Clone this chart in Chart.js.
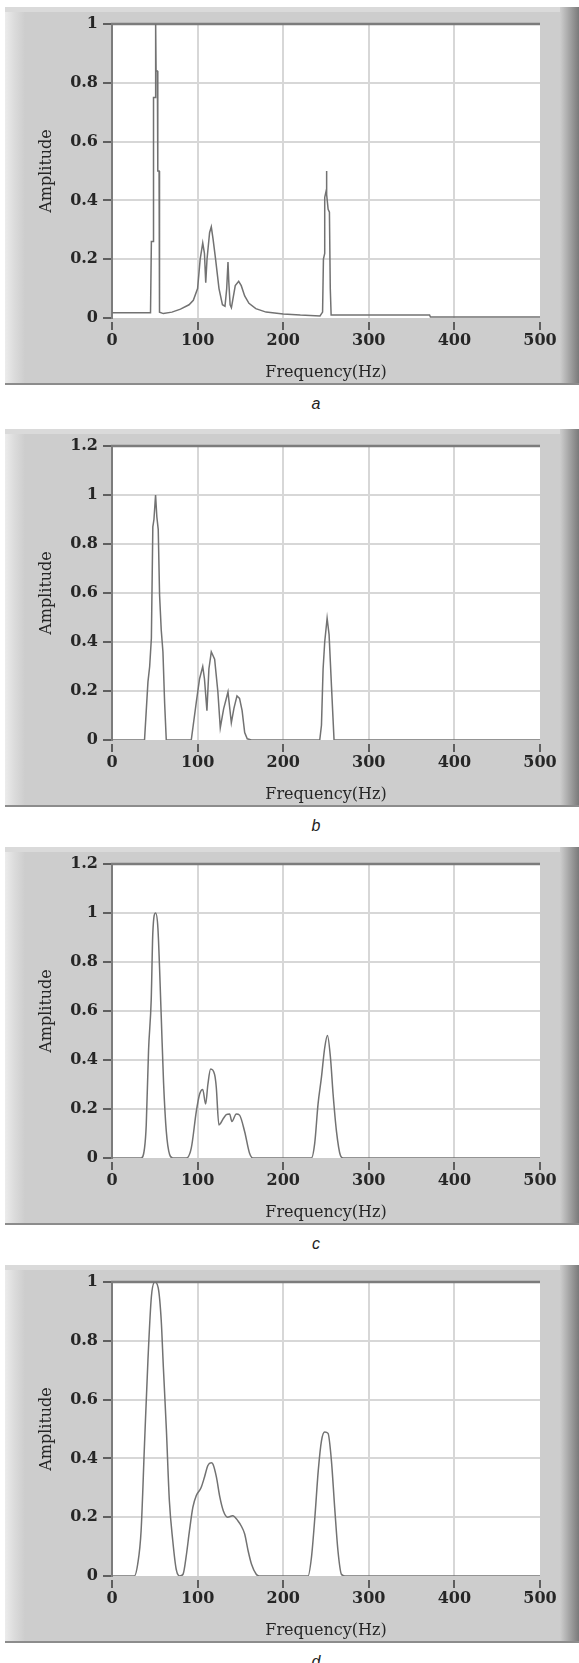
<!DOCTYPE html>
<html>
<head>
<meta charset="utf-8">
<script src="https://cdn.jsdelivr.net/npm/chart.js@4.4.0/dist/chart.umd.min.js"></script>
<style>
  html, body { margin: 0; padding: 0; background: #ffffff; }
  #page { position: relative; width: 579px; height: 1663px; overflow: hidden; background: #ffffff; }
  .frame {
    position: absolute; left: 5px; width: 574px; height: 378px;
    background:
      linear-gradient(to top, #8c8c8c 0, #8c8c8c 2px, rgba(0,0,0,0) 2px),
      linear-gradient(to right, #ececec 0, #dcdcdc 9px, #cdcdcd 20px, #cdcdcd 555px, #bcbcbc 559px, #999999 567px, #7a7a7a 574px);
  }
  .frame .band { position: absolute; left: 0; top: 0; width: 555px; height: 5px; background: #dadada; }
  .frame canvas { position: absolute; left: 0; top: 0; }
  .cap {
    position: absolute; left: 296px; width: 40px; text-align: center;
    font: italic 16px "Liberation Sans", Arial, sans-serif; color: #222; line-height: 20px;
  }
</style>
</head>
<body>
<div id="page"></div>
<script>
// Spectrum a: raw FFT amplitude
const freqA = [0, 45, 46, 48.5, 48.5, 50.5, 51, 51.5, 53, 53.5, 55, 55.5, 60, 70, 80, 90, 95, 100, 103, 106, 108, 109.5, 111, 114, 116, 118, 121, 125, 129, 132, 134, 135.5, 136.5, 138, 139.5, 141, 144, 148, 151, 155, 160, 168, 180, 200, 220, 243, 246, 247, 248.5, 248.5, 250, 250.5, 251, 252.5, 254, 255, 256, 300, 371, 372, 500];
const ampA  = [0.018, 0.018, 0.26, 0.26, 0.75, 0.75, 1.0, 0.84, 0.84, 0.5, 0.5, 0.02, 0.015, 0.02, 0.03, 0.045, 0.06, 0.1, 0.2, 0.255, 0.22, 0.12, 0.2, 0.29, 0.31, 0.27, 0.2, 0.1, 0.045, 0.04, 0.1, 0.19, 0.12, 0.045, 0.035, 0.06, 0.11, 0.125, 0.11, 0.075, 0.05, 0.032, 0.02, 0.014, 0.01, 0.007, 0.02, 0.2, 0.22, 0.41, 0.43, 0.5, 0.42, 0.37, 0.36, 0.1, 0.01, 0.01, 0.01, 0.003, 0.003];

// Spectrum b
const freqB = [0, 38, 42, 44, 46, 47.7, 49, 50.9, 52.4, 54, 55.6, 57.5, 59.5, 61.5, 63.4, 92.6, 98.5, 102.3, 106, 108, 110.9, 113.2, 116, 119.9, 123.7, 126.5, 130.4, 135.5, 139.4, 142.5, 146, 149, 152, 155, 158, 162.8, 242.7, 244.7, 246.6, 248.5, 251.3, 253.6, 256.4, 259.4, 500];
const ampB  = [0, 0, 0.237, 0.3, 0.415, 0.87, 0.9, 1.0, 0.91, 0.86, 0.59, 0.45, 0.36, 0.15, 0, 0, 0.155, 0.25, 0.3, 0.25, 0.12, 0.29, 0.36, 0.33, 0.196, 0.05, 0.127, 0.196, 0.07, 0.13, 0.18, 0.17, 0.12, 0.03, 0.005, 0, 0, 0.06, 0.29, 0.4, 0.497, 0.43, 0.22, 0, 0];

// Spectrum c
const freqC = [0, 34, 38, 40, 42.7, 45.8, 47.7, 50.9, 53.6, 57.5, 60.2, 63.4, 67.3, 71, 87, 92.6, 98.5, 102.3, 106, 109.4, 112, 115.2, 119.9, 121.8, 124.9, 130.4, 133.5, 137.4, 140, 145.2, 149, 155, 160.8, 164.7, 233, 236.8, 240.7, 244.7, 248.5, 251.7, 255.2, 258.3, 262.2, 266.9, 270, 500];
const ampC  = [0, 0, 0.04, 0.135, 0.44, 0.645, 0.92, 1.0, 0.94, 0.58, 0.31, 0.11, 0.014, 0, 0, 0.04, 0.19, 0.26, 0.28, 0.22, 0.3, 0.363, 0.34, 0.29, 0.135, 0.163, 0.177, 0.18, 0.149, 0.18, 0.175, 0.107, 0.018, 0, 0, 0.06, 0.22, 0.33, 0.45, 0.5, 0.41, 0.26, 0.11, 0.01, 0, 0];

// Spectrum d
const freqD = [0, 26, 30, 34, 38, 42, 46, 50, 54, 57.5, 60, 63.5, 67, 71, 75, 79, 83, 87, 90.5, 94.5, 98.5, 104, 108, 112, 116, 118, 122, 126, 130, 135, 141, 147, 151, 155, 159, 163, 168.5, 172, 229, 233, 237, 241, 244.7, 248.5, 252.4, 256.4, 260.2, 264, 268, 272, 500];
const ampD  = [0, 0, 0.04, 0.154, 0.45, 0.735, 0.95, 1.0, 0.98, 0.87, 0.71, 0.5, 0.257, 0.12, 0.023, 0, 0.006, 0.074, 0.154, 0.234, 0.274, 0.3, 0.336, 0.376, 0.385, 0.38, 0.336, 0.268, 0.222, 0.2, 0.205, 0.188, 0.17, 0.143, 0.086, 0.04, 0.006, 0, 0, 0.063, 0.2, 0.36, 0.46, 0.49, 0.485, 0.39, 0.23, 0.085, 0.006, 0, 0];

const yMaxes = [1, 1.2, 1.2, 1];
const captions = ['a', 'b', 'c', 'd'];
const xTitle = 'Frequency(Hz)';
const yTitle = 'Amplitude';

const series = [[freqA, ampA], [freqB, ampB], [freqC, ampC], [freqD, ampD]];
const smooth = [false, false, true, true];

// layout constants (page pixels)
const frameTops = [7, 429, 847, 1265];
const FRAME_W = 574, FRAME_H = 378;
const AREA_LEFT = 107, AREA_RIGHT = 535, AREA_TOP = 17, AREA_BOTTOM = 311;

// white plot background and the dark top edge of the plot
const plotFrame = {
  id: 'plotFrame',
  beforeDraw(chart) {
    const { ctx, chartArea: a } = chart;
    ctx.save();
    ctx.fillStyle = '#ffffff';
    ctx.fillRect(a.left, a.top, a.right - a.left, a.bottom - a.top);
    ctx.restore();
  },
  beforeDatasetsDraw(chart) {
    const { ctx, chartArea: a } = chart;
    ctx.save();
    ctx.strokeStyle = '#7c7c7c';
    ctx.lineWidth = 2.5;
    ctx.beginPath();
    ctx.moveTo(a.left - 1, a.top);
    ctx.lineTo(a.right, a.top);
    ctx.stroke();
    ctx.restore();
  }
};

const tickFont = { family: '"DejaVu Serif", "Liberation Serif", serif', size: 16, weight: 'bold' };
const titleFont = { family: '"DejaVu Serif", "Liberation Serif", serif', size: 16 };
const TEXT = '#262626';
const GRID = '#d7d7d7';

const page = document.getElementById('page');

series.forEach(([freqs, amps], i) => {
  const frame = document.createElement('div');
  frame.className = 'frame';
  frame.style.top = frameTops[i] + 'px';
  const band = document.createElement('div');
  band.className = 'band';
  frame.appendChild(band);
  const canvas = document.createElement('canvas');
  canvas.width = FRAME_W;
  canvas.height = FRAME_H;
  canvas.style.width = FRAME_W + 'px';
  canvas.style.height = FRAME_H + 'px';
  frame.appendChild(canvas);
  page.appendChild(frame);

  const cap = document.createElement('div');
  cap.className = 'cap';
  cap.style.top = (frameTops[i] + 387) + 'px';
  cap.textContent = captions[i];
  page.appendChild(cap);

  const yMax = yMaxes[i];
  const points = freqs.map((f, k) => ({ x: f, y: amps[k] }));

  new Chart(canvas, {
    type: 'line',
    data: {
      datasets: [{
        data: points,
        borderColor: '#727272',
        borderWidth: 1.5,
        pointRadius: 0,
        tension: 0,
        cubicInterpolationMode: smooth[i] ? 'monotone' : 'default',
        fill: false
      }]
    },
    options: {
      responsive: false,
      animation: false,
      devicePixelRatio: 1,
      layout: { padding: { left: 0, right: FRAME_W - AREA_RIGHT, top: AREA_TOP, bottom: 0 } },
      plugins: { legend: { display: false }, tooltip: { enabled: false } },
      scales: {
        x: {
          type: 'linear', min: 0, max: 500,
          afterFit(s) { s.height = FRAME_H - AREA_BOTTOM; },
          ticks: { stepSize: 100, font: tickFont, color: TEXT, padding: 1, maxRotation: 0, autoSkip: false },
          grid: {
            color: c => (c.tick && (c.tick.value === 0 || c.tick.value === 500)) ? 'rgba(0,0,0,0)' : GRID,
            lineWidth: 2,
            tickColor: '#3a3a3a',
            tickWidth: 1.5,
            tickLength: 12,
            tickBorderDash: [0, 4, 8, 40]
          },
          border: { display: false },
          title: { display: true, text: xTitle, font: titleFont, color: TEXT, padding: { top: 0, bottom: 3 } }
        },
        y: {
          min: 0, max: yMax,
          afterFit(s) { s.width = AREA_LEFT; },
          ticks: {
            stepSize: 0.2, font: tickFont, color: TEXT, padding: 5,
            callback: v => String(+v.toFixed(1))
          },
          grid: {
            color: c => (c.tick && (c.tick.value === 0 || Math.abs(c.tick.value - yMax) < 1e-9)) ? 'rgba(0,0,0,0)' : GRID,
            lineWidth: 2,
            tickColor: '#3a3a3a',
            tickWidth: 1.5,
            tickLength: 9
          },
          border: { display: true, color: '#7c7c7c', width: 2 },
          title: { display: true, text: yTitle, font: titleFont, color: TEXT, padding: { top: 32, bottom: 0 } }
        }
      }
    },
    plugins: [plotFrame]
  });
});
</script>
</body>
</html>
